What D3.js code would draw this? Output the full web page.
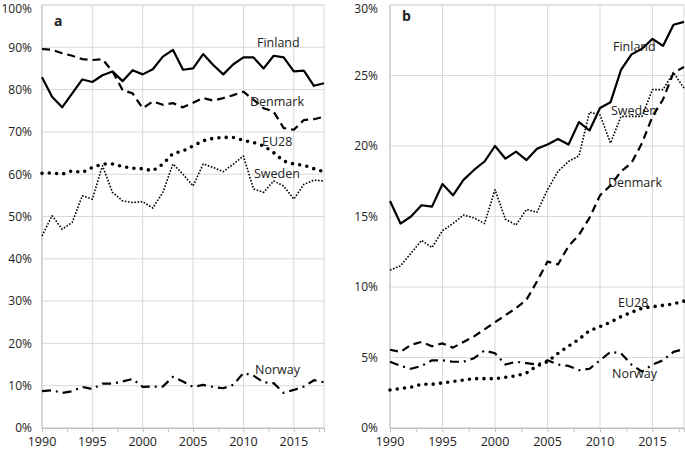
<!DOCTYPE html>
<html>
<head>
<meta charset="utf-8">
<script src="https://cdn.jsdelivr.net/npm/d3@7"></script>
<style>
  body { margin: 0; background: #fff; }
  svg text { font-family: "Open Sans", "Liberation Sans", sans-serif; fill: #222; }
</style>
</head>
<body>
<svg id="chart" width="685" height="450"></svg>
<script>
const years = d3.range(1990, 2019);

// panel a values (%)
const finlandA = [82.9, 78.3, 75.8, 79.1, 82.4, 81.8, 83.4, 84.3, 82.0, 84.6, 83.6, 84.8, 87.8, 89.4, 84.7, 85.0, 88.4, 85.8, 83.6, 86.0, 87.6, 87.6, 85.0, 88.0, 87.6, 84.3, 84.5, 80.9, 81.5];
const denmarkA = [89.6, 89.4, 88.6, 88.0, 87.2, 87.0, 87.2, 84.3, 79.9, 79.1, 75.6, 77.2, 76.4, 76.8, 75.8, 76.9, 78.0, 77.4, 78.0, 78.7, 79.5, 77.6, 75.6, 74.8, 70.9, 70.5, 72.8, 73.0, 73.6];
const eu28A = [60.2, 60.3, 60.0, 60.8, 60.4, 61.6, 62.4, 62.4, 61.8, 61.4, 61.3, 60.8, 62.4, 64.9, 65.5, 66.7, 67.9, 68.5, 68.7, 68.7, 68.0, 67.5, 66.7, 65.1, 63.1, 62.4, 62.1, 61.3, 60.6];
const swedenA = [45.4, 50.2, 47.0, 48.6, 54.9, 54.1, 62.0, 55.7, 53.7, 53.3, 53.5, 52.0, 55.7, 62.4, 60.0, 57.2, 62.4, 61.6, 60.6, 62.4, 64.3, 56.5, 55.7, 58.4, 57.2, 54.1, 57.6, 58.6, 58.4];
const norwayA = [8.7, 8.9, 8.3, 8.7, 9.7, 9.2, 10.5, 10.5, 11.0, 11.6, 9.7, 9.8, 9.8, 12.1, 11.0, 9.7, 10.2, 9.7, 9.4, 10.2, 13.0, 12.4, 10.8, 10.6, 8.3, 9.0, 9.8, 11.3, 10.8];

// panel b values (%)
const finlandB = [16.1, 14.5, 15.0, 15.8, 15.7, 17.3, 16.5, 17.6, 18.3, 18.9, 20.0, 19.1, 19.6, 19.0, 19.8, 20.1, 20.5, 20.1, 21.7, 21.1, 22.7, 23.1, 25.4, 26.5, 26.9, 27.6, 27.1, 28.6, 28.8];
const swedenB = [11.2, 11.5, 12.4, 13.3, 12.8, 14.0, 14.5, 15.1, 14.9, 14.5, 16.9, 14.8, 14.4, 15.5, 15.3, 16.9, 18.2, 18.9, 19.3, 22.4, 22.2, 20.2, 22.1, 22.1, 22.1, 24.0, 24.0, 25.2, 24.1];
const denmarkB = [5.55, 5.4, 5.9, 6.1, 5.8, 6.0, 5.7, 6.1, 6.5, 7.0, 7.5, 8.0, 8.5, 9.1, 10.4, 11.8, 11.6, 12.9, 13.7, 14.9, 16.5, 17.2, 18.2, 18.8, 20.2, 22.1, 23.3, 25.2, 25.6];
const eu28B = [2.7, 2.8, 2.9, 3.1, 3.1, 3.2, 3.3, 3.4, 3.5, 3.5, 3.5, 3.6, 3.7, 3.9, 4.4, 4.7, 5.3, 5.8, 6.3, 6.9, 7.2, 7.5, 7.9, 8.2, 8.5, 8.6, 8.7, 8.8, 9.0];
const norwayB = [4.7, 4.4, 4.2, 4.4, 4.8, 4.8, 4.7, 4.7, 4.95, 5.5, 5.3, 4.5, 4.7, 4.6, 4.5, 4.8, 4.5, 4.4, 4.1, 4.2, 4.8, 5.4, 5.3, 4.5, 4.0, 4.5, 4.8, 5.4, 5.6];

const yearTicks = [1990, 1995, 2000, 2005, 2010, 2015];
const ticksA = d3.range(0, 101, 10);
const ticksB = d3.range(0, 31, 5);

// line styles per series
const styles = {
  Finland: { width: 2.2, dash: null, cap: "butt" },
  Denmark: { width: 2.2, dash: "8 5", cap: "butt" },
  EU28: { width: 3.6, dash: "0 7.3", cap: "round" },
  Sweden: { width: 1.6, dash: "1.6 1.6", cap: "butt" },
  Norway: { width: 2.2, dash: "9 5 2 5", cap: "butt" }
};

const panels = [
  {
    tag: "a", tagY: 26, left: 42, right: 324, max: 100, ticks: ticksA, labelX: 32,
    series: [
      { name: "Finland", values: finlandA, lx: 257, ly: 47 },
      { name: "Denmark", values: denmarkA, lx: 250, ly: 106 },
      { name: "EU28", values: eu28A, lx: 262, ly: 146 },
      { name: "Sweden", values: swedenA, lx: 254, ly: 178 },
      { name: "Norway", values: norwayA, lx: 255, ly: 374 }
    ]
  },
  {
    tag: "b", tagY: 21, left: 390, right: 684, max: 30, ticks: ticksB, labelX: 378,
    series: [
      { name: "Finland", values: finlandB, lx: 613, ly: 51 },
      { name: "Sweden", values: swedenB, lx: 611, ly: 115 },
      { name: "Denmark", values: denmarkB, lx: 608, ly: 187 },
      { name: "EU28", values: eu28B, lx: 618, ly: 307 },
      { name: "Norway", values: norwayB, lx: 612, ly: 378 }
    ]
  }
];

const plotTop = 5, plotBottom = 428;
const svg = d3.select("#chart");

panels.forEach(p => {
  const x = d3.scaleLinear().domain([1990, 2018]).range([p.left, p.right]);
  const y = d3.scaleLinear().domain([0, p.max]).range([plotBottom, plotTop]);
  const g = svg.append("g");

  // plot border
  g.append("rect")
    .attr("x", p.left).attr("y", plotTop)
    .attr("width", p.right - p.left).attr("height", plotBottom - plotTop)
    .attr("fill", "none").attr("stroke", "#d9d9d9");

  // horizontal grid
  g.selectAll(".hgrid").data(p.ticks).enter().append("line")
    .attr("x1", p.left).attr("x2", p.right)
    .attr("y1", d => y(d)).attr("y2", d => y(d))
    .attr("stroke", "#d9d9d9");

  // vertical grid
  g.selectAll(".vgrid").data(yearTicks.slice(1)).enter().append("line")
    .attr("x1", d => x(d)).attr("x2", d => x(d))
    .attr("y1", plotTop).attr("y2", plotBottom)
    .attr("stroke", "#d9d9d9");

  // y labels (top one nudged so it stays inside the picture)
  g.selectAll(".ylab").data(p.ticks).enter().append("text")
    .attr("x", p.labelX).attr("y", d => Math.max(y(d) + 4.3, 13))
    .attr("text-anchor", "end").attr("font-size", 12)
    .text(d => d + "%");

  // x axis
  const xAxis = g.append("g").attr("transform", `translate(0,${plotBottom})`)
    .call(d3.axisBottom(x).tickValues(d3.range(1990, 2019, 2.5)).tickSize(4).tickFormat(""));
  xAxis.select(".domain").attr("stroke", "#bfbfbf");
  xAxis.selectAll(".tick line").attr("stroke", "#bfbfbf");

  g.selectAll(".xlab").data(yearTicks).enter().append("text")
    .attr("x", d => x(d)).attr("y", 446)
    .attr("text-anchor", "middle").attr("font-size", 12.5)
    .text(d => d);

  // left axis line
  g.append("line")
    .attr("x1", p.left).attr("x2", p.left).attr("y1", plotTop).attr("y2", plotBottom)
    .attr("stroke", "#bfbfbf");

  // series
  const line = d3.line().x((d, i) => x(years[i])).y(d => y(d));
  p.series.forEach(s => {
    const st = styles[s.name];
    g.append("path")
      .datum(s.values)
      .attr("d", line)
      .attr("fill", "none")
      .attr("stroke", "#000")
      .attr("stroke-width", st.width)
      .attr("stroke-linecap", st.cap)
      .attr("stroke-linejoin", "round")
      .attr("stroke-dasharray", st.dash);

    g.append("text")
      .attr("x", s.lx).attr("y", s.ly)
      .attr("font-size", 12.5)
      .text(s.name);
  });

  // panel tag
  g.append("text")
    .attr("x", p.left + 12).attr("y", p.tagY)
    .attr("font-size", 14).attr("font-weight", "bold")
    .text(p.tag);
});
</script>
</body>
</html>
